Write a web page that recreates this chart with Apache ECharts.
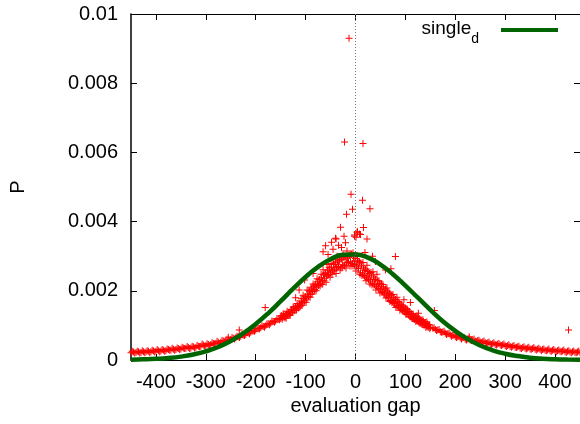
<!DOCTYPE html>
<html>
<head>
<meta charset="utf-8">
<script src="https://cdn.jsdelivr.net/npm/echarts@6/dist/echarts.min.js"></script>
<style>
html,body{margin:0;padding:0;background:#fff;}
#chart{width:580px;height:424px;}
</style>
</head>
<body>
<div id="chart"></div>
<script>
// ---- data ----
var xTicks = [-400, -300, -200, -100, 0, 100, 200, 300, 400];
var yTicks = [0, 0.002, 0.004, 0.006, 0.008, 0.01];

// band of measured P, left tail: gap -450 .. -155, step 5
var leftStart = -450, leftStep = 5;
var leftP = [
0.00021,0.00023,0.00022,0.00024,0.00022,0.00024,0.00023,0.00025,0.00024,0.00026,
0.00025,0.00027,0.00026,0.00028,0.00027,0.00030,0.00029,0.00031,0.00030,0.00033,
0.00032,0.00035,0.00034,0.00036,0.00035,0.00038,0.00037,0.00040,0.00040,0.00043,
0.00042,0.00045,0.00045,0.00048,0.00048,0.00051,0.00051,0.00055,0.00055,0.00058,
0.00059,0.00063,0.00064,0.00067,0.00069,0.00072,0.00074,0.00078,0.00080,0.00084,
0.00087,0.00090,0.00093,0.00097,0.00099,0.00104,0.00106,0.00111,0.00113,0.00118
];
// left tail, in-between gaps: -447.5 .. -152.5, step 5
var leftStart2 = -447.5, leftStep2 = 5;
var leftP2 = [
0.00025,0.00020,0.00025,0.00020,0.00027,0.00021,0.00027,0.00022,0.00028,0.00023,
0.00030,0.00024,0.00030,0.00025,0.00032,0.00028,0.00034,0.00028,0.00035,0.00030,
0.00037,0.00033,0.00039,0.00033,0.00040,0.00035,0.00042,0.00038,0.00046,0.00040,
0.00047,0.00042,0.00050,0.00046,0.00054,0.00048,0.00056,0.00052,0.00060,0.00057,
0.00065,0.00061,0.00069,0.00065,0.00074,0.00071,0.00080,0.00076,0.00085,0.00083,
0.00092,0.00090,0.00099,0.00095,0.00105,0.00102,0.00113,0.00109,0.00120,0.00116
];
// central part: gap -150 .. 150, step 2
var centerStart = -150, centerStep = 2;
var centerP = [
0.00120,0.00128,0.00123,0.00131,0.00126,0.00124,0.00133,0.00129,0.00137,0.00131,
0.00136,0.00145,0.00139,0.00150,0.00143,0.00153,0.00147,0.00157,0.00150,0.00162,
0.00158,0.00170,0.00165,0.00178,0.00171,0.00183,0.00176,0.00190,0.00184,0.00197,
0.00190,0.00205,0.00198,0.00213,0.00204,0.00220,0.00210,0.00226,0.00215,0.00232,
0.00222,0.00238,0.00228,0.00246,0.00236,0.00252,0.00242,0.00258,0.00247,0.00263,
0.00252,0.00268,0.00258,0.00276,0.00262,0.00281,0.00266,0.00284,0.00270,0.00288,
0.00268,0.00292,0.00275,0.00297,0.00272,0.00300,0.00280,0.00295,0.00283,0.00302,
0.00284,0.00305,0.00279,0.00298,0.00276,0.00293,0.00272,0.00288,0.00265,0.00284,
0.00252,0.00272,0.00248,0.00266,0.00242,0.00262,0.00238,0.00256,0.00233,0.00250,
0.00228,0.00245,0.00222,0.00240,0.00218,0.00234,0.00213,0.00229,0.00207,0.00222,
0.00203,0.00218,0.00197,0.00212,0.00191,0.00205,0.00186,0.00199,0.00180,0.00193,
0.00172,0.00186,0.00168,0.00180,0.00163,0.00175,0.00158,0.00170,0.00153,0.00165,
0.00148,0.00160,0.00143,0.00154,0.00139,0.00150,0.00134,0.00145,0.00131,0.00140,
0.00125,0.00134,0.00121,0.00130,0.00117,0.00126,0.00114,0.00122,0.00110,0.00118,
0.00107,0.00114,0.00104,0.00111,0.00101,0.00107,0.00098,0.00104,0.00095,0.00101,
0.00094
];
// central part, odd gaps: -149 .. 149, step 2
var centerStart2 = -149, centerStep2 = 2;
var centerP2 = [
0.00128,0.00118,0.00134,0.00122,0.00131,0.00121,0.00141,0.00129,0.00139,0.00129,
0.00146,0.00137,0.00153,0.00143,0.00152,0.00143,0.00163,0.00153,0.00163,0.00154,
0.00177,0.00158,0.00187,0.00166,0.00183,0.00167,0.00202,0.00182,0.00200,0.00181,
0.00210,0.00191,0.00220,0.00199,0.00216,0.00200,0.00235,0.00215,0.00233,0.00214,
0.00248,0.00218,0.00261,0.00229,0.00250,0.00225,0.00276,0.00245,0.00268,0.00239,
0.00279,0.00248,0.00290,0.00257,0.00277,0.00250,0.00300,0.00268,0.00290,0.00260,
0.00298,0.00266,0.00307,0.00273,0.00292,0.00266,0.00315,0.00282,0.00303,0.00272,
0.00308,0.00272,0.00310,0.00272,0.00287,0.00257,0.00302,0.00265,0.00283,0.00248,
0.00280,0.00244,0.00282,0.00244,0.00259,0.00229,0.00274,0.00237,0.00255,0.00220,
0.00253,0.00217,0.00255,0.00217,0.00233,0.00202,0.00248,0.00211,0.00229,0.00194,
0.00220,0.00195,0.00218,0.00191,0.00202,0.00179,0.00208,0.00182,0.00194,0.00169,
0.00190,0.00166,0.00189,0.00163,0.00174,0.00152,0.00181,0.00156,0.00168,0.00144,
0.00158,0.00145,0.00156,0.00141,0.00146,0.00132,0.00148,0.00133,0.00138,0.00125,
0.00134,0.00121,0.00133,0.00119,0.00124,0.00111,0.00127,0.00113,0.00119,0.00106,
0.00116,0.00103,0.00116,0.00101,0.00107,0.00094,0.00110,0.00096,0.00102,0.00090
];
// right tail: gap 155 .. 450, step 5
var rightStart = 155, rightStep = 5;
var rightP = [
0.00092,0.00088,0.00087,0.00082,0.00081,0.00077,0.00076,0.00072,0.00071,0.00067,
0.00067,0.00064,0.00064,0.00060,0.00061,0.00058,0.00058,0.00055,0.00056,0.00052,
0.00053,0.00050,0.00050,0.00047,0.00048,0.00045,0.00046,0.00043,0.00044,0.00041,
0.00042,0.00039,0.00040,0.00037,0.00038,0.00035,0.00036,0.00034,0.00035,0.00032,
0.00033,0.00031,0.00032,0.00030,0.00030,0.00028,0.00029,0.00027,0.00028,0.00026,
0.00027,0.00025,0.00026,0.00024,0.00025,0.00023,0.00024,0.00022,0.00023,0.00021
];
// right tail, in-between gaps: 157.5 .. 447.5, step 5
var rightStart2 = 157.5, rightStep2 = 5;
var rightP2 = [
0.00093,0.00085,0.00088,0.00080,0.00083,0.00074,0.00077,0.00069,0.00072,0.00065,
0.00070,0.00061,0.00065,0.00058,0.00062,0.00056,0.00061,0.00053,0.00057,0.00050,
0.00055,0.00048,0.00052,0.00045,0.00050,0.00043,0.00048,0.00042,0.00046,0.00039,
0.00044,0.00037,0.00042,0.00036,0.00040,0.00033,0.00038,0.00032,0.00037,0.00031,
0.00036,0.00029,0.00034,0.00027,0.00032,0.00027,0.00032,0.00025,0.00030,0.00024,
0.00029,0.00024,0.00029,0.00022,0.00027,0.00021,0.00026,0.00021,0.00026
];
// isolated points
var outGap = [-13,-22,15,-9,14,29,-6,-18,-30,16,4,8,-23,-2,1,-40,23,-39,-34,-45,-20,-65,19,34,80,71,-102,-113,-181,-233,-255,97,110,126,158,228,427,10,-2,3,-55,-28,40,60,-85,-120,-60,-48];
var outP   = [0.0093,0.0063,0.00626,0.00479,0.00462,0.00437,0.00436,0.00421,0.00384,0.00383,0.00371,0.00364,0.00358,0.00358,0.00355,0.00352,0.0035,0.0035,0.00332,0.0032,0.00339,0.00313,0.00311,0.003,0.00299,0.00264,0.00231,0.00202,0.00152,0.00087,0.00066,0.00174,0.00166,0.00135,0.00143,0.00067,0.00087,0.00363,0.00361,0.00369,0.00305,0.00325,0.00285,0.0026,0.0025,0.0018,0.0033,0.0034];

// fitted curve single_d
var fitGap = [-450,-425,-400,-375,-350,-325,-300,-275,-250,-225,-200,-175,-150,-125,-100,-75,-50,-25,0,25,50,75,100,125,150,175,200,225,250,275,300,325,350,375,400,425,450];
var fitP = [0.0000097,0.0000183,0.0000332,0.0000582,0.0000981,0.000160,0.000250,0.000377,0.000549,0.000770,0.00104,0.00135,0.00170,0.00206,0.00240,0.00269,0.00291,0.00304,0.00305,0.00296,0.00276,0.00248,0.00215,0.00180,0.00145,0.00112,0.000841,0.000606,0.000420,0.000281,0.000181,0.000113,0.0000676,0.0000390,0.0000217,0.0000116,0.000006];

// ---- build series data ----
var pts = [];
function addSeg(start, step, arr){ for (var i=0;i<arr.length;i++) pts.push([start+i*step, arr[i]]); }
addSeg(leftStart, leftStep, leftP);
addSeg(leftStart2, leftStep2, leftP2);
addSeg(centerStart, centerStep, centerP);
addSeg(centerStart2, centerStep2, centerP2);
addSeg(rightStart, rightStep, rightP);
addSeg(rightStart2, rightStep2, rightP2);
for (var j=0;j<outGap.length;j++) pts.push([outGap[j], outP[j]]);
var fit = fitGap.map(function(g,i){return [g, fitP[i]];});

var FONT = '"Liberation Sans", Arial, sans-serif';
var chart = echarts.init(document.getElementById('chart'), null, {renderer:'canvas'});
var plus = 'path://M3,0h1v3h3v1h-3v3h-1v-3h-3v-1h3z';

chart.setOption({
  animation:false,
  backgroundColor:'#fff',
  grid:{left:127, right:0, top:14, bottom:64, containLabel:false},
  legend:{
    show:true, right:17, top:14, align:'right', icon:'rect',
    itemWidth:57, itemHeight:4, itemGap:0,
    data:[{name:'single_d'}],
    formatter:function(){return '{a|single}{b|d}';},
    textStyle:{
      fontFamily:FONT, color:'#000',
      rich:{
        a:{fontSize:19, lineHeight:22, fontFamily:FONT, color:'#000', verticalAlign:'top'},
        b:{fontSize:14, lineHeight:14, fontFamily:FONT, color:'#000', verticalAlign:'top', padding:[13,17,0,0]}
      }
    }
  },
  xAxis:[{
    type:'value', min:-450, max:450, position:'bottom',
    name:'evaluation gap', nameLocation:'middle', nameGap:36,
    nameTextStyle:{fontFamily:FONT, fontSize:20, color:'#000'},
    axisLine:{show:true, onZero:false, lineStyle:{color:'#000', width:1}},
    axisTick:{show:true, inside:true, length:6, customValues:xTicks, lineStyle:{color:'#000'}},
    axisLabel:{show:true, customValues:xTicks, margin:12, fontFamily:FONT, fontSize:20, color:'#000'},
    splitLine:{show:false}
  },{
    type:'value', min:-450, max:450, position:'top',
    axisLine:{show:true, onZero:false, lineStyle:{color:'#000', width:1}},
    axisTick:{show:true, inside:true, length:6, customValues:xTicks, lineStyle:{color:'#000'}},
    axisLabel:{show:false}, splitLine:{show:false}
  }],
  yAxis:[{
    type:'value', min:0, max:0.01, interval:0.002, position:'left',
    name:'P', nameLocation:'middle', nameGap:103, nameRotate:90,
    nameTextStyle:{fontFamily:FONT, fontSize:20, color:'#000'},
    axisLine:{show:true, onZero:false, lineStyle:{color:'#000', width:1.5}},
    axisTick:{show:true, inside:true, length:6, lineStyle:{color:'#000'}},
    axisLabel:{show:true, margin:13, fontFamily:FONT, fontSize:20, color:'#000',
      formatter:function(v){return String(+v.toFixed(4));}},
    splitLine:{show:false}
  },{
    type:'value', min:0, max:0.01, interval:0.002, position:'right',
    axisLine:{show:true, onZero:false, lineStyle:{color:'#000', width:1}},
    axisTick:{show:true, inside:true, length:6, lineStyle:{color:'#000'}},
    axisLabel:{show:false}, splitLine:{show:false}
  }],
  series:[{
    name:'measured', type:'scatter', xAxisIndex:0, yAxisIndex:0,
    symbol:plus, symbolSize:7,
    itemStyle:{color:'#ff0000', opacity:1},
    data:pts, silent:true,
    markLine:{
      silent:true, symbol:['none','none'], label:{show:false},
      lineStyle:{type:[1,2], color:'#777', width:1},
      data:[{xAxis:0}]
    }
  },{
    name:'single_d', type:'line', xAxisIndex:0, yAxisIndex:0,
    data:fit, smooth:true, symbol:'none', showSymbol:false,
    lineStyle:{color:'#006400', width:4.5},
    itemStyle:{color:'#006400'}, silent:true
  }]
});
</script>
</body>
</html>
